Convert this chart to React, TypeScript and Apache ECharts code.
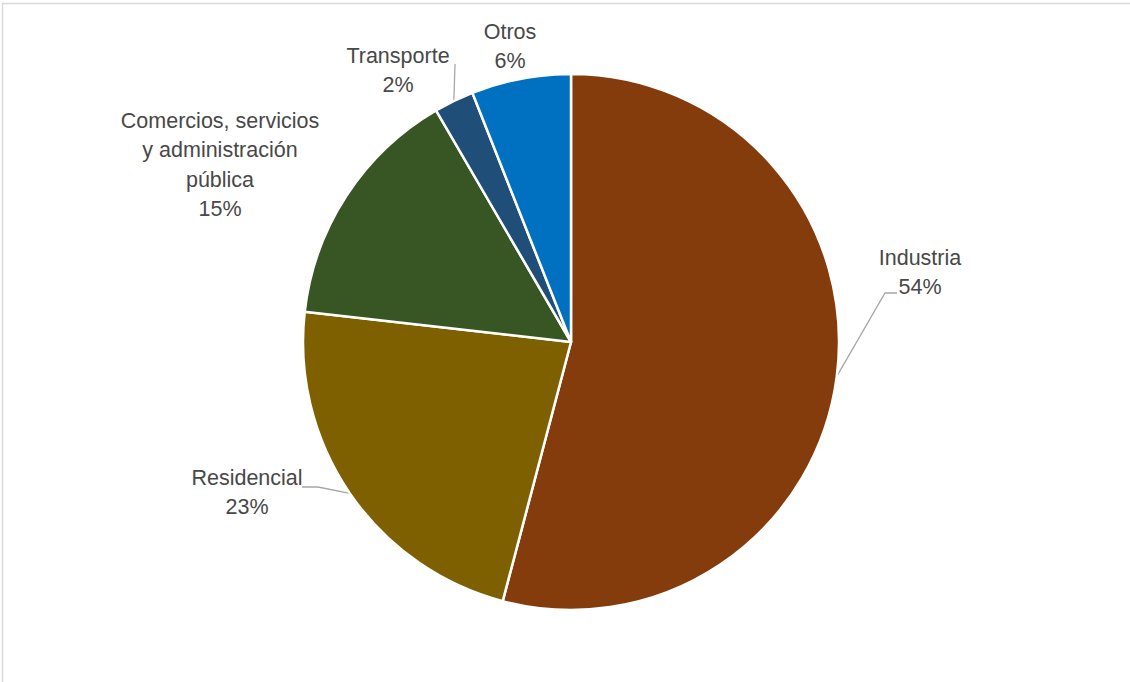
import React, { useEffect, useRef } from "react";
import * as echarts from "echarts";

const categories = [
  "Industria",
  "Residencial",
  "Comercios, servicios y administración pública",
  "Transporte",
  "Otros",
];
const labelNames = [
  "Industria",
  "Residencial",
  "Comercios, servicios\ny administración\npública",
  "Transporte",
  "Otros",
];
const values = [54.1, 22.7, 14.8, 2.4, 6.0];
const colors = ["#843C0C", "#7F6000", "#375623", "#1F4E79", "#0070C0"];

// label anchor (center x, top y) and leader line extra points
const labelAnchors: { x: number; y: number; line: number[][] | null }[] = [
  { x: 920, y: 243, line: [[885, 293], [897, 293]] },
  { x: 247, y: 463, line: [[318, 487], [302, 487]] },
  { x: 220, y: 106, line: null },
  { x: 398, y: 41, line: [[455, 64]] },
  { x: 510, y: 17, line: null },
];

export default function App() {
  const ref = useRef<HTMLDivElement>(null);
  useEffect(() => {
    if (!ref.current) return;
    const chart = echarts.init(ref.current, null, { renderer: "svg" });
    const font = '"Liberation Sans", Arial, sans-serif';
    chart.setOption({
      animation: false,
      backgroundColor: "#ffffff",
      graphic: [
        {
          type: "rect",
          shape: { x: 2.5, y: 3.5, width: 1200, height: 800 },
          style: { fill: "none", stroke: "#d9d9d9", lineWidth: 1.5 },
          silent: true,
        },
      ],
      series: [
        {
          type: "pie",
          center: [571, 342],
          radius: 268,
          startAngle: 90,
          clockwise: true,
          avoidLabelOverlap: false,
          itemStyle: { borderColor: "#ffffff", borderWidth: 2.5 },
          label: {
            show: true,
            position: "outside",
            formatter: (p: any) => `${labelNames[p.dataIndex]}\n${Math.round(p.percent)}%`,
            color: "#484848",
            fontFamily: font,
            fontSize: 21.5,
            lineHeight: 29.5,
            align: "center",
          },
          labelLine: {
            show: true,
            lineStyle: { color: "#a6a6a6", width: 1.3 },
            length: 10,
            length2: 10,
          },
          labelLayout: (params: any) => {
            const a = labelAnchors[params.dataIndex];
            const start = params.labelLinePoints ? params.labelLinePoints[0] : null;
            const res: any = { x: a.x, y: a.y, align: "center", verticalAlign: "top" };
            if (a.line && start) {
              res.labelLinePoints = [start, ...a.line];
            }
            return res;
          },
          data: categories.map((c, i) => ({
            name: c,
            value: values[i],
            itemStyle: { color: colors[i] },
            labelLine: { show: labelAnchors[i].line !== null },
          })),
        },
      ],
    });
    return () => chart.dispose();
  }, []);
  return (
    <div
      ref={ref}
      style={{ position: "fixed", left: 0, top: 0, width: 1130, height: 682 }}
    />
  );
}
